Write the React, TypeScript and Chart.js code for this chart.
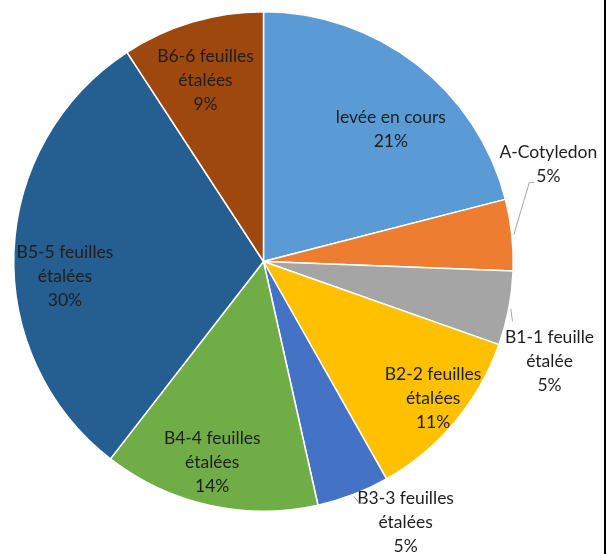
import React, { useEffect, useRef } from "react";
import { Chart, registerables } from "chart.js";

Chart.register(...registerables);

const categories = [
  "levée en cours",
  "A-Cotyledon",
  "B1-1 feuille étalée",
  "B2-2 feuilles étalées",
  "B3-3 feuilles étalées",
  "B4-4 feuilles étalées",
  "B5-5 feuilles étalées",
  "B6-6 feuilles étalées",
];
const shares = [21.0, 4.6, 4.8, 11.4, 4.7, 14.0, 30.3, 9.2];
const colors = ["#5B9BD5", "#ED7D31", "#A5A5A5", "#FFC000", "#4472C4", "#70AD47", "#255E91", "#9E480E"];

// label placement style: radius factor, angle shift (deg) from slice middle, outside flag
const labelRadius = [0.734, 1.205, 1.213, 0.872, 1.19, 0.831, 0.797, 0.761];
const labelShift = [6.2, -12.7, 8.45, -1.1, -7.5, 1.7, -6.5, -1.2];
const labelOutside = [false, true, true, false, true, false, false, false];
// leader line elbow/end offsets from label centre (null = straight to end)
const leaderElbow: ([number, number] | null)[] = [null, [-19, 18], null, null, [-46, -19], null, null, null];
const leaderEnd: ([number, number] | null)[] = [null, [-14, 18], [-37, -40], null, [-42, -19], null, null, null];

function wrapName(name: string): string[] {
  const i = name.indexOf(" étal");
  if (i < 0) return [name];
  return [name.slice(0, i), name.slice(i + 1)];
}

const labelPlugin = {
  id: "sliceLabels",
  afterDatasetsDraw(chart: any) {
    const ctx = chart.ctx;
    const meta = chart.getDatasetMeta(0);
    const total = shares.reduce((a, b) => a + b, 0);
    ctx.save();
    ctx.font = "17.5px Lato";
    ctx.textAlign = "center";
    ctx.textBaseline = "middle";
    meta.data.forEach((arc: any, i: number) => {
      const { x, y, startAngle, endAngle, outerRadius } = arc.getProps(
        ["x", "y", "startAngle", "endAngle", "outerRadius"],
        true
      );
      const mid = (startAngle + endAngle) / 2;
      const a = mid + (labelShift[i] * Math.PI) / 180;
      const r = outerRadius * labelRadius[i];
      const cx = x + r * Math.cos(a);
      const cy = y + r * Math.sin(a);
      const lines = [...wrapName(categories[i]), Math.round((shares[i] / total) * 100) + "%"];
      const lh = 24;
      const y0 = cy - ((lines.length - 1) * lh) / 2;
      ctx.fillStyle = "#1e1e1e";
      lines.forEach((t, k) => ctx.fillText(t, cx, y0 + k * lh));
      if (labelOutside[i]) {
        const sx = x + (outerRadius + 2) * Math.cos(mid);
        const sy = y + (outerRadius + 2) * Math.sin(mid);
        ctx.strokeStyle = "#A6A6A6";
        ctx.lineWidth = 1;
        ctx.beginPath();
        ctx.moveTo(sx, sy);
        const el = leaderElbow[i];
        if (el) ctx.lineTo(cx + el[0], cy + el[1]);
        const en = leaderEnd[i];
        if (en) ctx.lineTo(cx + en[0], cy + en[1]);
        ctx.stroke();
      }
    });
    ctx.restore();
  },
};

export default function App() {
  const ref = useRef<HTMLCanvasElement | null>(null);
  useEffect(() => {
    if (!ref.current) return;
    const chart = new Chart(ref.current, {
      type: "pie",
      data: {
        labels: categories,
        datasets: [
          {
            data: shares,
            backgroundColor: colors,
            borderColor: "#FFFFFF",
            borderWidth: 1.5,
          },
        ],
      },
      options: {
        responsive: false,
        animation: false,
        layout: { padding: { left: 13, right: 97, top: 11, bottom: 42 } },
        plugins: { legend: { display: false }, tooltip: { enabled: false } },
      },
      plugins: [labelPlugin],
    });
    return () => chart.destroy();
  }, []);
  return (
    <div style={{ position: "absolute", left: 0, top: 0, width: 611, height: 554, background: "#fff" }}>
      <canvas ref={ref} width={611} height={554} style={{ display: "block" }} />
      <div style={{ position: "absolute", left: 604, top: 0, width: 2, height: 554, background: "#000" }} />
    </div>
  );
}
